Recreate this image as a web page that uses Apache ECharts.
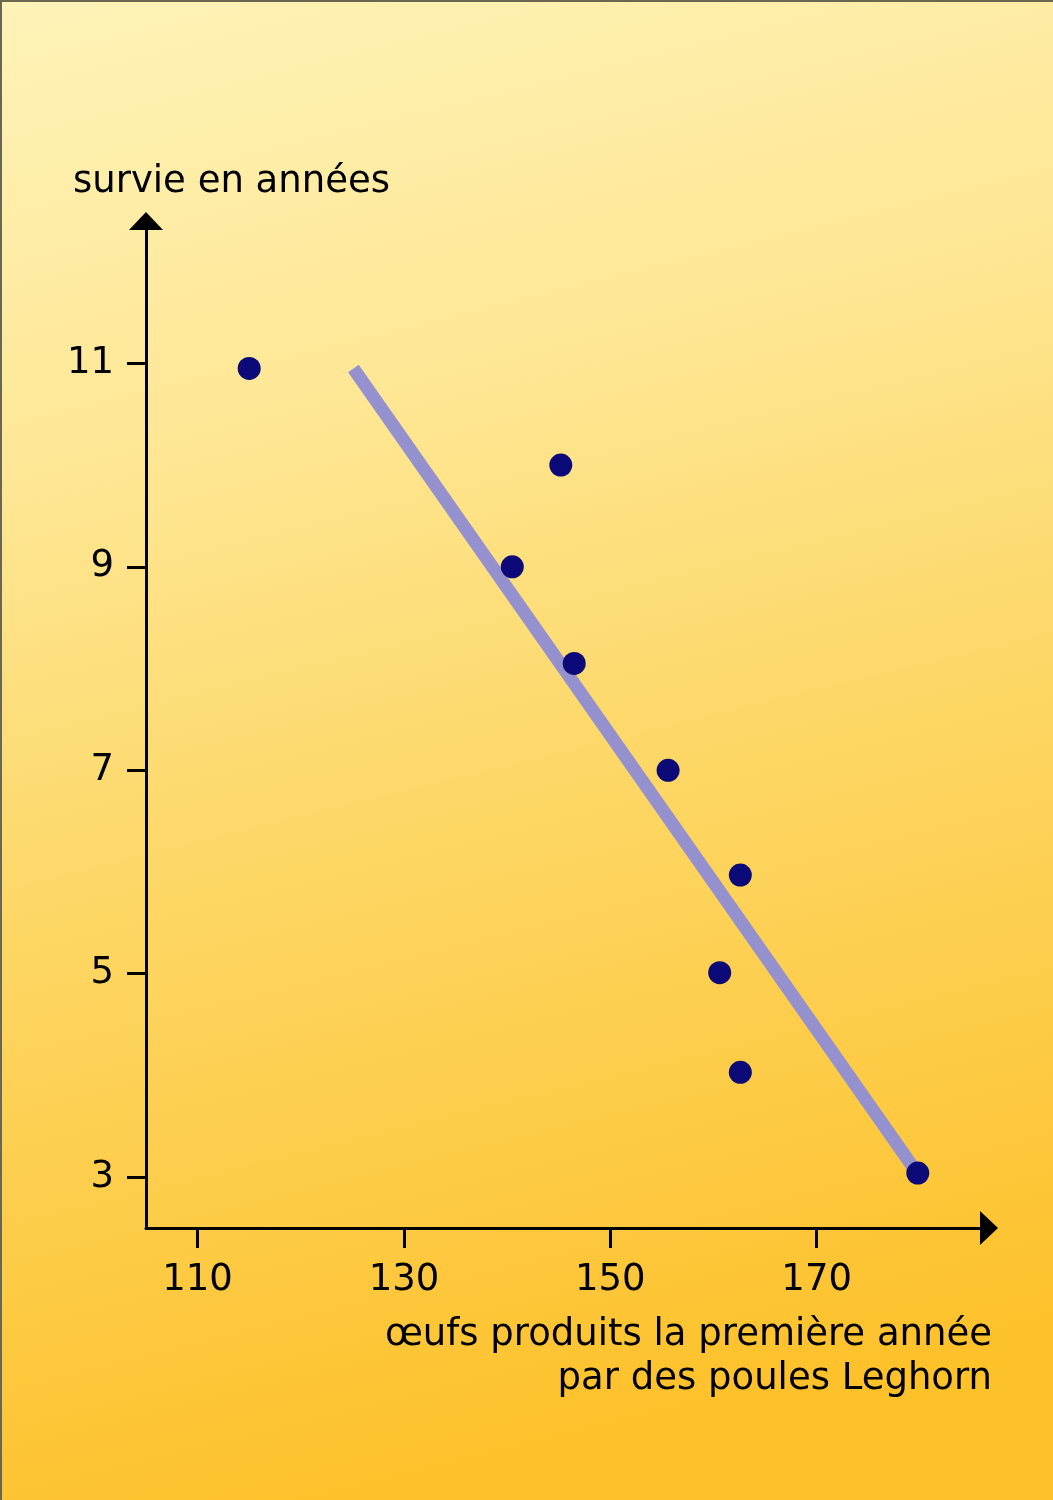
<!DOCTYPE html>
<html><head><meta charset="utf-8">
<script src="https://cdn.jsdelivr.net/npm/echarts@6/dist/echarts.min.js"></script>
<style>
html,body{margin:0;padding:0;background:#fde08a;}
#wrap{position:relative;width:1053px;height:1500px;}
#c{width:1053px;height:1500px;}
#edge{position:absolute;left:0;top:0;width:1053px;height:1500px;border-left:2px solid #6b6650;border-top:2px solid #6b6650;box-sizing:border-box;pointer-events:none;}
</style>
</head><body><div id="wrap"><div id="c"></div><div id="edge"></div></div>
<script>
// Eggs laid in the first year vs survival (years), Leghorn hens
const eggs     = [115.0, 145.2, 140.5, 146.5, 155.6, 162.6, 160.6, 162.6, 179.8];
const survival = [10.95, 10.0, 9.0, 8.05, 7.0, 5.97, 5.01, 4.03, 3.04];
// fitted line end points
const trendX = [125.1, 179.6];
const trendY = [10.95, 3.06];
const xTicks = [110, 130, 150, 170];
const yTicks = [3, 5, 7, 9, 11];
const yTitle = 'survie en années';
const xTitle = ['œufs produits la première année', 'par des poules Leghorn'];

const FONT = 'DejaVu Sans';
const chart = echarts.init(document.getElementById('c'), null, {renderer: 'canvas'});

const points = eggs.map((x, i) => [x, survival[i]]);
const trend = trendX.map((x, i) => [x, trendY[i]]);

chart.setOption({
  animation: false,
  backgroundColor: {
    type: 'linear', x: 0, y: 0, x2: 0.35, y2: 1,
    colorStops: [
      {offset: 0, color: '#fef3b8'},
      {offset: 0.3, color: '#fee795'},
      {offset: 0.6, color: '#fdd663'},
      {offset: 1, color: '#fdc12a'}
    ]
  },
  grid: {left: 146, right: 64, top: 221, bottom: 272, containLabel: false},
  xAxis: {
    type: 'value', min: 105, max: 186.7,
    splitLine: {show: false},
    axisLine: {show: true, lineStyle: {color: '#000', width: 3},
      symbol: ['none', 'triangle'], symbolSize: [34, 18]},
    axisTick: {show: true, customValues: xTicks, length: 20, lineStyle: {color: '#000', width: 3}},
    axisLabel: {show: true, customValues: xTicks, margin: 34, color: '#000',
      fontFamily: FONT, fontSize: 37}
  },
  yAxis: {
    type: 'value', min: 2.5, max: 12.4,
    splitLine: {show: false},
    axisLine: {show: true, lineStyle: {color: '#000', width: 3},
      symbol: ['none', 'triangle'], symbolSize: [34, 18]},
    axisTick: {show: true, customValues: yTicks, length: 19, lineStyle: {color: '#000', width: 3}},
    axisLabel: {show: true, customValues: yTicks, margin: 32, color: '#000',
      fontFamily: FONT, fontSize: 37, padding: [4, 0, 0, 0]}
  },
  graphic: [
    {type: 'text', left: 73, top: 164, z: 10,
      style: {text: yTitle, fill: '#000', font: '37px "' + FONT + '"'}},
    {type: 'text', right: 61, top: 1313, z: 10,
      style: {text: xTitle.join('\n'), fill: '#000', font: '37px "' + FONT + '"', textAlign: 'right', lineHeight: 44}}
  ],
  series: [
    {type: 'line', data: trend, symbol: 'none', silent: true, z: 1,
      lineStyle: {color: '#9591cf', width: 13, cap: 'butt', opacity: 1}},
    {type: 'scatter', data: points, symbol: 'circle', symbolSize: 23, z: 3,
      itemStyle: {color: '#0c0a78', opacity: 1}}
  ]
});
</script>
</body></html>
